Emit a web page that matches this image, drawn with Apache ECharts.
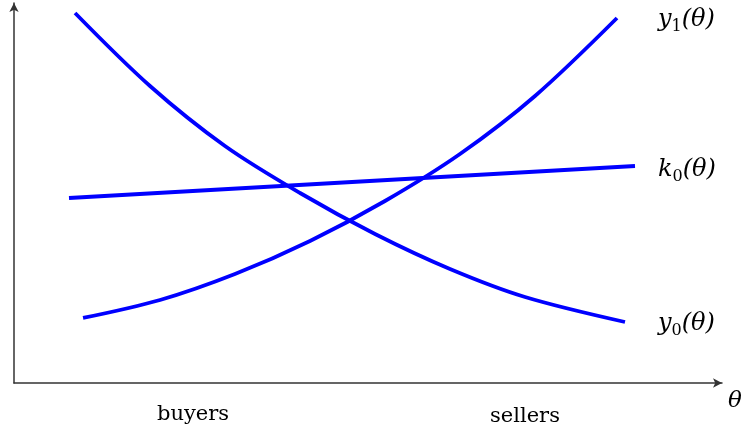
<!DOCTYPE html>
<html>
<head>
<meta charset="utf-8">
<script src="https://cdn.jsdelivr.net/npm/echarts@6/dist/echarts.min.js"></script>
<style>html,body{margin:0;padding:0;background:#fff}#c{width:743px;height:436px}</style>
</head>
<body>
<div id="c"></div>
<script>
// Data (abstract units, axis range 0..10)
const y0Theta = [[0.862,9.737],[1.921,7.816],[2.980,6.237],[4.040,5.000],[5.099,3.921],[6.158,3.000],[7.218,2.263],[8.630,1.605]];
const y1Theta = [[0.975,1.711],[2.062,2.184],[3.121,2.868],[4.181,3.737],[5.240,4.789],[6.299,6.026],[7.359,7.553],[8.517,9.605]];
const k0Theta = [[0.777,4.868],[8.771,5.711]];
const groupLabels = ['buyers','sellers'];

const chart = echarts.init(document.getElementById('c'), null, {renderer:'canvas'});
const blue = '#0000ff';
const serif = 'DejaVu Serif';
function mathLabel(letter, sub){
  return {
    text: '{a|' + letter + '}{b|' + sub + '}{a|(θ)}',
    verticalAlign: 'middle',
    rich: {
      a: {fontFamily: serif, fontStyle: 'italic', fontSize: 24, lineHeight: 30, fill: '#000', verticalAlign: 'middle'},
      b: {fontFamily: serif, fontSize: 16, lineHeight: 18, fill: '#000', verticalAlign: 'bottom'}
    }
  };
}
const lineSeries = (name, data) => ({
  type: 'line', name, data, smooth: 0.33, symbol: 'none',
  lineStyle: {color: blue, width: 3.8}, silent: true
});
chart.setOption({
  animation: false,
  grid: {left: 14, right: 21, top: 3, bottom: 53, containLabel: false},
  xAxis: {
    type: 'value', min: 0, max: 10,
    axisLine: {show: true, onZero: false, symbol: ['none','arrow'], symbolSize: [7,9], lineStyle: {color: '#333', width: 1.5}},
    axisTick: {show: false}, axisLabel: {show: false}, splitLine: {show: false}
  },
  yAxis: {
    type: 'value', min: 0, max: 10,
    axisLine: {show: true, onZero: false, symbol: ['none','arrow'], symbolSize: [7,9], lineStyle: {color: '#333', width: 1.5}},
    axisTick: {show: false}, axisLabel: {show: false}, splitLine: {show: false}
  },
  series: [
    lineSeries('y0', y0Theta),
    lineSeries('y1', y1Theta),
    lineSeries('k0', k0Theta)
  ],
  graphic: [
    {type: 'text', x: 658, y: 20, style: mathLabel('y', '1')},
    {type: 'text', x: 658, y: 170, style: mathLabel('k', '0')},
    {type: 'text', x: 658, y: 324, style: mathLabel('y', '0')},
    {type: 'text', x: 735, y: 401, style: {text: 'θ', fontFamily: serif, fontStyle: 'italic', fontSize: 23, fill: '#000', align: 'center', verticalAlign: 'middle'}},
    {type: 'text', x: 193, y: 415, style: {text: groupLabels[0], fontFamily: serif, fontSize: 21, fill: '#000', align: 'center', verticalAlign: 'middle'}},
    {type: 'text', x: 525, y: 417, style: {text: groupLabels[1], fontFamily: serif, fontSize: 21, fill: '#000', align: 'center', verticalAlign: 'middle'}}
  ]
});
</script>
</body>
</html>
